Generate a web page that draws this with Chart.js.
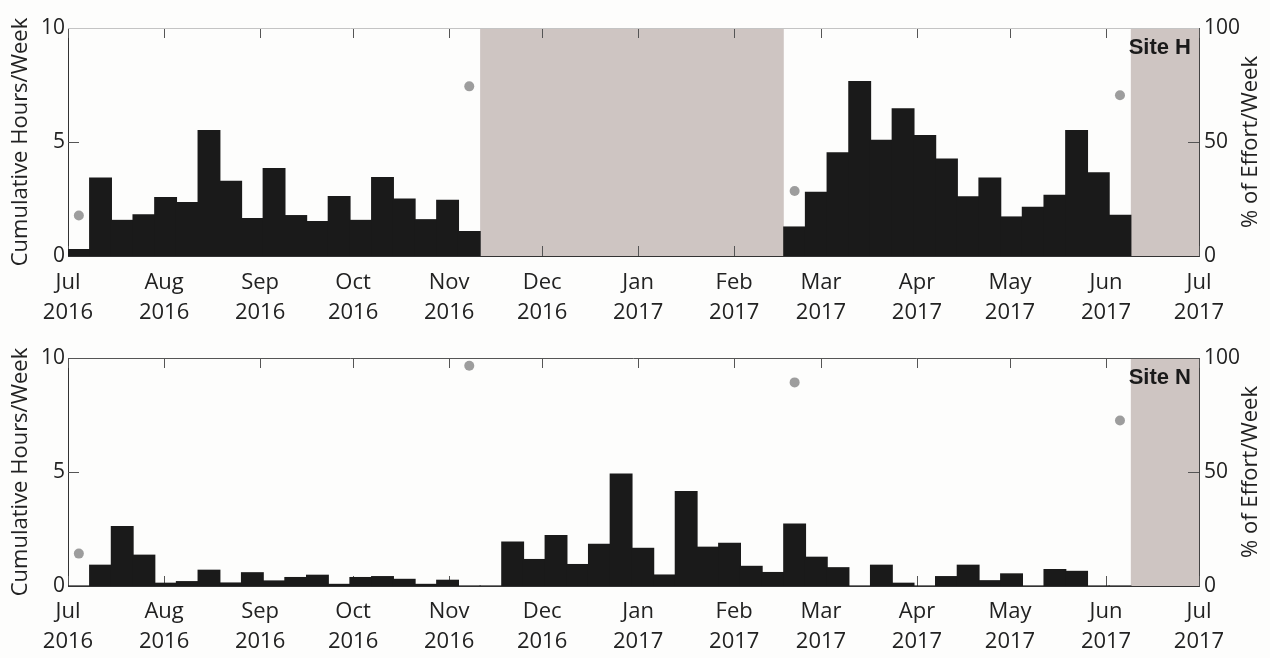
<!DOCTYPE html>
<html>
<head>
<meta charset="utf-8">
<script src="https://cdn.jsdelivr.net/npm/chart.js@4.4.1/dist/chart.umd.min.js"></script>
<style>
    html, body { margin: 0; padding: 0; background: #fdfdfc; }
    #wrap { position: relative; width: 1270px; height: 658px; }
    canvas { position: absolute; left: 0; }
</style>
</head>
<body>
<div id="wrap">
    <canvas id="siteH" width="1270" height="329" style="top:0"></canvas>
    <canvas id="siteN" width="1270" height="329" style="top:329px"></canvas>
</div>
<script>
// x axis is days since 1 Jul 2016, one bar per week
const MONTH_DAYS = [0, 31, 62, 92, 123, 153, 184, 215, 243, 274, 304, 335, 365];
const MONTH_LABELS = [
    ['Jul', '2016'], ['Aug', '2016'], ['Sep', '2016'], ['Oct', '2016'], ['Nov', '2016'],
    ['Dec', '2016'], ['Jan', '2017'], ['Feb', '2017'], ['Mar', '2017'], ['Apr', '2017'],
    ['May', '2017'], ['Jun', '2017'], ['Jul', '2017']
];

// cumulative hours per week (null = no recording)
const siteH_hours = [
    0.28, 3.42, 1.56, 1.80, 2.56, 2.34, 5.50, 3.27, 1.64, 3.83,
    1.77, 1.51, 2.60, 1.56, 3.44, 2.50, 1.59, 2.44, 1.07, null,
    null, null, null, null, null, null, null, null, null, null,
    null, null, null, 1.27, 2.79, 4.52, 7.65, 5.07, 6.45, 5.28,
    4.25, 2.59, 3.42, 1.71, 2.13, 2.66, 5.50, 3.65, 1.78, null,
    null, null
];
const siteN_hours = [
    0.00, 0.91, 2.60, 1.35, 0.12, 0.19, 0.69, 0.13, 0.58, 0.22,
    0.37, 0.47, 0.07, 0.37, 0.41, 0.29, 0.07, 0.25, 0.00, 0.00,
    1.92, 1.16, 2.21, 0.94, 1.83, 4.91, 1.65, 0.48, 4.14, 1.70,
    1.87, 0.86, 0.59, 2.71, 1.26, 0.80, 0.00, 0.91, 0.12, 0.00,
    0.41, 0.91, 0.23, 0.53, 0.00, 0.72, 0.64, 0.00, 0.00, null,
    null, null
];

// % of effort in weeks with partial recording
const EFFORT_WEEKS = [0, 18, 33, 48];
const siteH_effort = [17.8, 74.4, 28.5, 70.5];
const siteN_effort = [14.2, 96.6, 89.3, 72.6];

// periods without recording, in days
const siteH_gaps = [[133, 231], [343, 365]];
const siteN_gaps = [[343, 365]];

const SITE_NAMES = ['Site H', 'Site N'];

const FONT = "'Open Sans', 'DejaVu Sans', sans-serif";
const TEXT = '#222';

const panelDecor = {
    id: 'panelDecor',
    beforeDatasetsDraw(chart, args, opts) {
        const {ctx, chartArea: a, scales: {x, y, y2}} = chart;
        ctx.save();
        ctx.fillStyle = '#cec5c2';
        opts.gaps.forEach(([s, e]) => {
            const x0 = x.getPixelForValue(s);
            const x1 = x.getPixelForValue(e);
            ctx.fillRect(x0, a.top, x1 - x0, a.bottom - a.top);
        });
        // inward tick marks, matlab style
        ctx.strokeStyle = '#555';
        ctx.lineWidth = 1;
        ctx.beginPath();
        x.ticks.forEach(t => {
            const px = Math.round(x.getPixelForValue(t.value)) + 0.5;
            ctx.moveTo(px, a.top);
            ctx.lineTo(px, a.top + 10);
            ctx.moveTo(px, a.bottom);
            ctx.lineTo(px, a.bottom - 10);
        });
        const py = Math.round(y.getPixelForValue(5)) + 0.5;
        ctx.moveTo(a.left, py);
        ctx.lineTo(a.left + 11, py);
        const py2 = Math.round(y2.getPixelForValue(50)) + 0.5;
        ctx.moveTo(a.right, py2);
        ctx.lineTo(a.right - 11, py2);
        ctx.stroke();
        ctx.restore();
    },
    afterDraw(chart, args, opts) {
        const {ctx, chartArea: a} = chart;
        ctx.save();
        ctx.strokeStyle = opts.topColor;
        ctx.lineWidth = 1;
        ctx.beginPath();
        ctx.moveTo(a.left, Math.round(a.top) + 0.5);
        ctx.lineTo(a.right, Math.round(a.top) + 0.5);
        ctx.stroke();

        ctx.fillStyle = '#1a1a1a';
        ctx.font = "bold 22px 'Liberation Sans', Arial, sans-serif";
        ctx.textAlign = 'right';
        ctx.textBaseline = 'alphabetic';
        ctx.fillText(opts.site, a.right - 8, a.top + 26);

        // right axis title reads bottom to top
        ctx.fillStyle = TEXT;
        ctx.font = '22px ' + FONT;
        ctx.textAlign = 'center';
        ctx.textBaseline = 'middle';
        ctx.translate(1251, (a.top + a.bottom) / 2);
        ctx.rotate(-Math.PI / 2);
        ctx.fillText('% of Effort/Week', 0, 0);
        ctx.restore();
    }
};

function makePanel(canvasId, hours, effort, gaps, site, topPad, xHeight, tickPad, topColor) {
    const bars = [];
    hours.forEach((v, w) => {
        if (v !== null) bars.push({x: w * 7 + 3.5, y: v});
    });
    const dots = EFFORT_WEEKS.map((w, i) => ({x: w * 7 + 3.5, y: effort[i]}));

    return new Chart(document.getElementById(canvasId), {
        type: 'bar',
        data: {
            datasets: [
                {
                    type: 'scatter',
                    data: dots,
                    yAxisID: 'y2',
                    pointRadius: 5,
                    pointBackgroundColor: '#9d9d9d',
                    pointBorderWidth: 0,
                    order: 0
                },
                {
                    data: bars,
                    backgroundColor: '#1a1a1a',
                    borderWidth: 0,
                    inflateAmount: 0.6,
                    categoryPercentage: 1,
                    barPercentage: 1,
                    yAxisID: 'y',
                    order: 1
                }
            ]
        },
        options: {
            responsive: false,
            animation: false,
            layout: {padding: {top: topPad, left: 0, right: 0, bottom: 0}},
            scales: {
                x: {
                    type: 'linear',
                    min: 0,
                    max: 365,
                    offset: false,
                    afterBuildTicks: s => { s.ticks = MONTH_DAYS.map(v => ({value: v})); },
                    afterFit: s => { s.height = xHeight; },
                    ticks: {
                        autoSkip: false,
                        maxRotation: 0,
                        padding: tickPad,
                        color: TEXT,
                        font: {family: FONT, size: 22, lineHeight: 1.36},
                        callback: (v, i) => MONTH_LABELS[i]
                    },
                    grid: {display: false, drawTicks: false},
                    border: {display: true, color: '#333', width: 1}
                },
                y: {
                    position: 'left',
                    min: 0,
                    max: 10,
                    afterFit: s => { s.width = 68; },
                    ticks: {
                        stepSize: 5,
                        padding: 3,
                        color: TEXT,
                        font: {family: FONT, size: 21}
                    },
                    title: {
                        display: true,
                        text: 'Cumulative Hours/Week',
                        color: TEXT,
                        font: {family: FONT, size: 22},
                        padding: {top: 8, bottom: 0}
                    },
                    grid: {display: false, drawTicks: false},
                    border: {display: true, color: '#333', width: 1}
                },
                y2: {
                    position: 'right',
                    min: 0,
                    max: 100,
                    afterFit: s => { s.width = 71; },
                    ticks: {
                        stepSize: 50,
                        padding: 5,
                        color: TEXT,
                        font: {family: FONT, size: 21}
                    },
                    grid: {display: false, drawTicks: false},
                    border: {display: true, color: '#444', width: 1}
                }
            },
            plugins: {
                legend: {display: false},
                tooltip: {enabled: false},
                panelDecor: {gaps: gaps, site: site, topColor: topColor}
            }
        },
        plugins: [panelDecor]
    });
}

makePanel('siteH', siteH_hours, siteH_effort, siteH_gaps, SITE_NAMES[0], 28, 73, 12, '#c4c4c4');
makePanel('siteN', siteN_hours, siteN_effort, siteN_gaps, SITE_NAMES[1], 29, 72, 11, '#555');
</script>
</body>
</html>
